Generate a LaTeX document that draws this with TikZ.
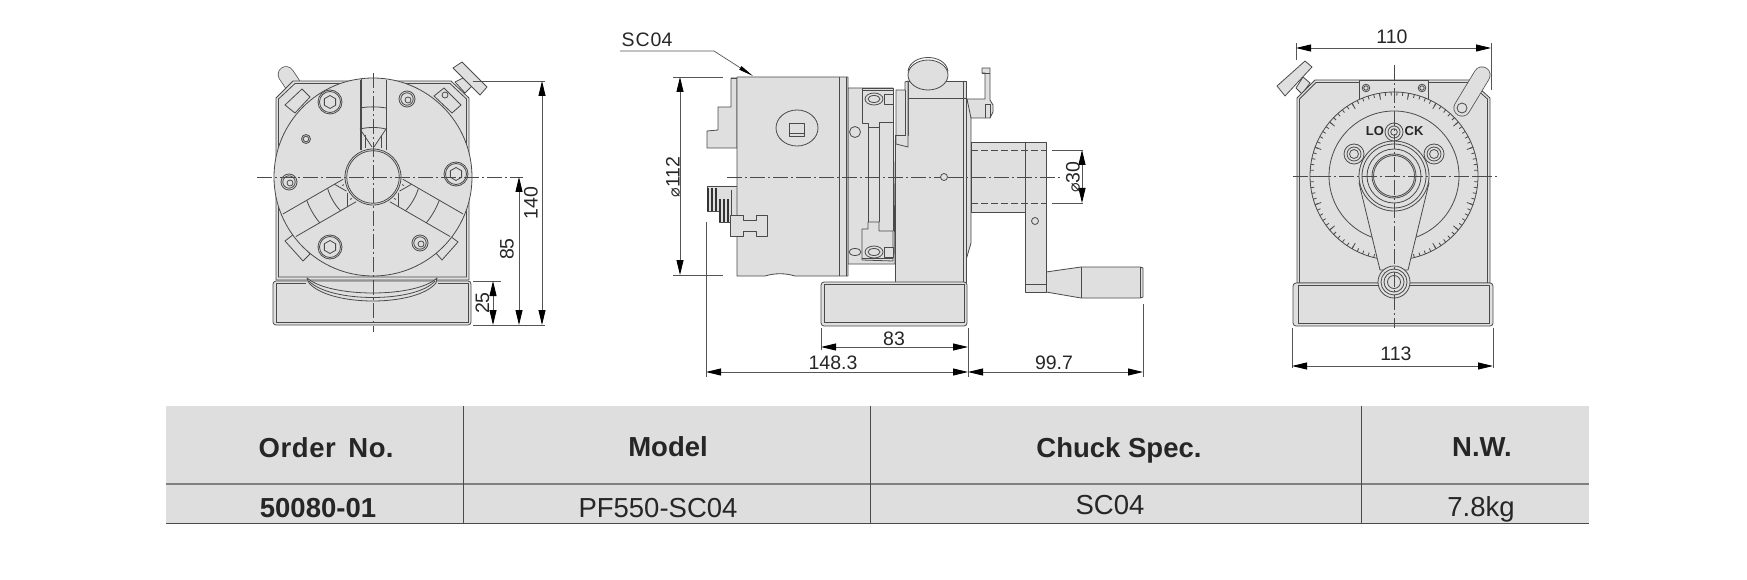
\documentclass[tikz,border=0pt]{standalone}
\usepackage{fontspec}
\setmainfont{Liberation Sans}
\newfontfamily\symfont{DejaVu Sans}
\usetikzlibrary{arrows.meta}
\definecolor{partfill}{HTML}{DFDFDF}
\definecolor{partline}{HTML}{4A4A4A}
\definecolor{dimline}{HTML}{555555}
\definecolor{inkc}{HTML}{262626}
\definecolor{tablefill}{HTML}{DEDEDE}
\tikzset{
  part/.style={draw=partline,line width=.8pt,fill=partfill,line join=round},
  edge/.style={draw=partline,line width=.8pt},
  hidden/.style={draw=partline,line width=.8pt,dash pattern=on 7pt off 3pt},
  axis/.style={draw=partline,line width=.7pt,dash pattern=on 15pt off 3pt on 2pt off 3pt},
  ext/.style={draw=dimline,line width=.7pt},
  dim/.style={draw=dimline,line width=.8pt,{Triangle[length=15pt,width=7pt,fill=black,color=black]}-{Triangle[length=15pt,width=7pt,fill=black,color=black]}},
  lead/.style={draw=dimline,line width=.7pt,-{Triangle[length=15pt,width=4pt,fill=black,color=black]}},
  dimtext/.style={font=\fontsize{19.5}{20}\selectfont,text=inkc,inner sep=0pt},
  head/.style={font=\fontsize{27.5}{28}\selectfont\bfseries,text=inkc,inner sep=0pt},
  cell/.style={font=\fontsize{27.5}{28}\selectfont,text=inkc,inner sep=0pt},
}
\newcommand{\dia}{{\symfont\fontsize{16}{16}\selectfont ⌀}}
\newcommand{\hexbolt}[2]{%
  \draw[part] (#1,#2) circle[radius=12];
  \draw[edge] (#1,#2) circle[radius=10.5];
  \draw[edge] (#1,#2) ++(30:6.5) -- ++(150:6.5) -- ++(210:6.5) -- ++(270:6.5) -- ++(330:6.5) -- ++(30:6.5) -- cycle;
}
\newcommand{\setbolt}[2]{%
  \draw[part] (#1,#2) circle[radius=8];
  \draw[edge] (#1,#2) circle[radius=6.2];
  \draw[edge] (#1+1,#2+1) circle[radius=3];
}
%% #1 rotation, #2 radius of the inner cross curve, #3 radius where the wedge starts
\newcommand{\jawslot}[3]{%
  \begin{scope}[shift={(373,177)},rotate=#1]
    \draw[edge] (-13,-27) -- (-13,-96.5) (13,-27) -- (13,-96.5);
    \draw[edge] (-13,-69) .. controls (-5,-70.5) and (5,-70.5) .. (13,-69);
    \draw[edge] (-13,-#2) .. controls (-5,-#2-2) and (5,-#2-2) .. (13,-#2);
    \draw[edge] (-13,-#3) -- (-1,-30) (13,-#3) -- (1,-30);
    \draw[edge] (-8,-#3+6) -- (-8,-29) (8,-#3+6) -- (8,-29);
  \end{scope}
}
\begin{document}
\begin{tikzpicture}[x=1pt,y=-1pt]
\useasboundingbox (0,0) rectangle (1747,580);
%% ------------- left view
\draw[partline,line width=16.5pt,line cap=round] (286,74.5) -- (295,88);
\draw[partfill,line width=15pt,line cap=round] (286,74.5) -- (295,88);
\draw[part] (455,82) -- (463,78) -- (472,86) -- (465,93) -- cycle;
\draw[part] (453,68) -- (462,62) -- (487,87) -- (480,95) -- cycle;
\draw[part] (293,81) -- (451,81) -- (469,98) -- (469,280) -- (276,280) -- (276,98) -- cycle;
\draw[edge] (295,83.5) -- (450,83.5) -- (466.5,99) -- (466.5,277) -- (278.5,277) -- (278.5,99) -- cycle;
\draw[part] (285,105) -- (302,89) -- (310,97) -- (295,113) -- cycle;
\draw[part] (434,96) -- (444,88) -- (461,105) -- (452,113) -- cycle;
\draw[part] (285,241) -- (294,234) -- (310,254) -- (303,261) -- cycle;
\draw[part] (435,252) -- (450,236) -- (458,242) -- (442,260) -- cycle;
\draw[part] (445,95) circle[radius=3];
\draw[part,rounded corners=3pt] (273,281) rectangle (471,325);
\draw[edge] (306,283.5) -- (276,283.5) -- (276,322) -- (468,322) -- (468,283.5) -- (438,283.5);
\draw[part] (307,278) -- (309,283) .. controls (330,307) and (416,307) .. (436,283) -- (437,278) .. controls (416,298) and (330,298) .. (307,278) -- cycle;
\draw[edge] (309,281) .. controls (330,303) and (416,303) .. (435,281);
\draw[part] (373,177) circle[radius=99];
\jawslot{0}{48}{48}\jawslot{120}{45}{37}\jawslot{-120}{45}{37}
\draw[edge] (361.5,79) -- (361.5,150);
\draw[part] (373,177) circle[radius=28];
\draw[edge] (373,177) circle[radius=26.3];
\hexbolt{330}{102}\hexbolt{330}{247}\hexbolt{456}{174}
\setbolt{407}{99}\setbolt{289}{182}\setbolt{420}{243}
\draw[edge] (306,139) circle[radius=4.5] (306,139) circle[radius=2.8];
\draw[axis] (257,177) -- (523,177);
\draw[axis] (373,73) -- (373,332);
%% dims
\draw[ext] (473,81) -- (545,81) (473,325) -- (545,325) (473,281) -- (501,281);
\draw[dim] (542,81) -- (542,325);
\draw[dim] (519,177) -- (519,325);
\draw[dim] (493,281) -- (493,325);
\node[dimtext,rotate=90] (d140) at (531,203) {140};
\node[dimtext,rotate=90] (d85) at (507,249) {85};
\node[dimtext,rotate=90] (d25) at (482.5,303) {25};
%% ------------- side view
\node[dimtext] (sc) at (647,40) {S\kern1pt C\kern1pt 04};
\draw[lead] (620,51) -- (714,51) -- (753,76);
\draw[ext] (673,77) -- (723,77) (673,275) -- (723,275);
\draw[dim] (680,77) -- (680,275);
\node[dimtext,rotate=90] (d112) at (673,177) {\dia 112};
%% jaws
\draw[part] (731,78) -- (731,107) -- (718,107) -- (718,130) -- (707,131) -- (707,148) -- (737,148) -- (737,78) -- cycle;
\draw[part] (707,186) -- (737,186) -- (737,216) -- (731,216) -- (731,222) -- (719,222) -- (719,211) -- (707,211) -- cycle;
\draw[edge] (731,190) -- (731,216);
\foreach \sx/\sy in {707/188,711/188,715/188,719/199,723/199,727/199}{
  \fill[black!80] (\sx,\sy) rectangle ++(2.4,23);
}
%% neck and clamps
\draw[part] (848,88) -- (893,88) -- (895,264) -- (848,264) -- cycle;
\draw[part] (862,88) -- (893,88) -- (893,122) -- (879,122) -- (879,127) -- (868,127) -- (868,123) -- (862,123) -- cycle;
\draw[part] (862,229) -- (868,229) -- (868,222) -- (879,222) -- (879,231) -- (893,231) -- (893,261) -- (862,260) -- cycle;
\draw[edge] (868,127) -- (868,222) (879,127) -- (879,222) (893,122) -- (893,231);
\draw[edge] (862,90.5) -- (893,90.5) (862,258) -- (893,258);
\draw[part] (884,94) rectangle (893,104);
\draw[part] (884,247) rectangle (893,257);
\draw[part] (874,99) ellipse[x radius=9,y radius=6];
\draw[edge] (874,99) ellipse[x radius=6,y radius=3.5];
\draw[part] (874,252) ellipse[x radius=9,y radius=6];
\draw[edge] (874,252) ellipse[x radius=6,y radius=3.5];
\draw[part] (855,132) circle[radius=5.5];
\draw[part] (855,252) ellipse[x radius=6,y radius=3.5];
%% chuck body
\draw[part] (737,77) -- (848,77) -- (848,276) -- (795,276) .. controls (785,273) and (775,273) .. (765,276) -- (737,276) -- cycle;
\draw[edge] (839,77) -- (839,276) (846,77) -- (846,276);
\draw[edge] (731,78) -- (737,78);
\draw[part] (797,128) ellipse[x radius=21,y radius=18];
\draw[part] (789,123) rectangle (804,136);
\draw[edge] (789,133) -- (804,133);
\draw[part] (730,215) -- (743,215) -- (743,220) -- (756,220) -- (756,215) -- (767,215) -- (767,236) -- (756,236) -- (756,231) -- (743,231) -- (743,236) -- (730,236) -- cycle;
%% housing
\draw[part] (966,98) -- (971,110) -- (971,243) -- (966,260) -- cycle;
\draw[part] (895,135) -- (895,282) -- (966,282) -- (966,81) -- (908,81) -- (908,135) -- cycle;
\draw[edge] (963,81) -- (963,282) (908,98) -- (966,98);
\draw[part] (896,90) -- (905,90) -- (905,82) -- (908,81) -- (908,147) -- (896,144) -- cycle;
\draw[edge] (896,135) -- (905,135) -- (905,90);
\draw[part] (928,75) ellipse[x radius=20,y radius=15];
\draw[edge] (908,71) .. controls (911,53) and (945,53) .. (948,71);
\draw[part] (944,177) circle[radius=3.5];
%% lever
\draw[part] (967,99) -- (985,99) -- (985,73) -- (982,73) -- (982,68) -- (990,68) -- (990,100) -- (993,105) -- (993,112) -- (990,118) -- (971,118) -- cycle;
\draw[edge] (982,73) -- (990,73) (985,104) -- (990,104) -- (990,118) (985,104) -- (985,118);
%% shaft and crank
\draw[part] (971,142) rectangle (1025,212);
\draw[part] (1046,272) -- (1081,267) -- (1140,267) -- (1143,268) -- (1143,297) -- (1140,298) -- (1081,298) -- (1046,292) -- cycle;
\draw[edge] (1081,267) -- (1081,298) (1140,267) -- (1140,298);
\draw[part] (1025,142) rectangle (1046,292);
\draw[edge] (1025,284) -- (1046,284);
\draw[hidden] (971,150) -- (1046,150) (971,203) -- (1046,203);
\draw[part] (1035,221) circle[radius=3.5];
\draw[axis] (727,177) -- (941,177) (948,177) -- (1063,177);
%% base
\draw[part,rounded corners=3pt] (821,282) rectangle (967,326);
\draw[edge] (824,284) rectangle (964,322);
%% dims
\draw[ext] (1052,150) -- (1083,150) (1052,203) -- (1083,203);
\draw[dim] (1082,150) -- (1082,203);
\node[dimtext,rotate=90] (d30) at (1073,177) {\dia 30};
\draw[ext] (821,328) -- (821,350) (968,328) -- (968,377) (706,222) -- (706,377) (1143,304) -- (1143,377);
\draw[dim] (821,347) -- (968,347);
\draw[dim] (706,372) -- (968,372);
\draw[dim] (968,372) -- (1143,372);
\node[dimtext] (d83) at (894,338.5) {83};
\node[dimtext] (d148) at (833,363) {148.3};
\node[dimtext] (d99) at (1054,363) {99.7};
%% ------------- right view
\draw[part] (1296,88) -- (1303,77) -- (1310,83) -- (1302,94) -- cycle;
\draw[part] (1277,86) -- (1305,61) -- (1312,67) -- (1285,96) -- cycle;
\draw[part] (1315,80) -- (1470,80) -- (1490,98) -- (1490,283) -- (1297,283) -- (1297,98) -- cycle;
\draw[edge] (1316,82.5) -- (1469,82.5) -- (1487.5,99) -- (1487.5,283) (1299.5,283) -- (1299.5,99) -- (1316,82.5);
\draw[part] (1359,80) rectangle (1428,100);
\draw[part] (1366,88) circle[radius=3.8];
\draw[edge] (1366,88) circle[radius=2.2];
\draw[part] (1422,88) circle[radius=3.8];
\draw[edge] (1422,88) circle[radius=2.2];
\draw[partline,line width=17pt,line cap=round] (1482,75) -- (1462,108);
\draw[partfill,line width=15.5pt,line cap=round] (1482,75) -- (1462,108);
\draw[part] (1462,108) circle[radius=5];
\draw[part] (1394,176) circle[radius=84];
\foreach \a in {0,4,...,356}{\draw[edge] (1394,176) ++(\a:84) -- ++(\a:-3.5);}
\foreach \a in {0,20,...,340}{\draw[edge] (1394,176) ++(\a:84) -- ++(\a:-6.5);}
\draw[edge] (1394,176) circle[radius=65];
\draw[part,rounded corners=3pt] (1293,283) rectangle (1493,326);
\draw[edge] (1298,285) rectangle (1489,323);
\draw[part] (1359,183) -- (1380,270) -- (1408,270) -- (1429,183) -- cycle;
\fill[partfill] (1362,185) rectangle (1426,195);
\draw[part] (1394,176) circle[radius=35];
\draw[edge] (1394,176) circle[radius=32] (1394,176) circle[radius=27] (1394,176) circle[radius=22];
\draw[edge] (1394,176) circle[radius=20.5];
\draw[part] (1354,154) circle[radius=10];
\draw[edge] (1354,154) circle[radius=7] (1354,154) circle[radius=4.5];
\draw[part] (1434,154) circle[radius=10];
\draw[edge] (1434,154) circle[radius=7] (1434,154) circle[radius=4.5];
\draw[part] (1394,132) circle[radius=9];
\draw[edge] (1394,132) circle[radius=6] (1394,132) circle[radius=3.3];
\node[font=\fontsize{13}{13}\selectfont\bfseries,text=inkc,inner sep=0pt] (lo) at (1375,131) {LO};
\node[font=\fontsize{13}{13}\selectfont\bfseries,text=inkc,inner sep=0pt] (ck) at (1414,131) {CK};
\draw[part] (1394,282) circle[radius=16];
\draw[edge] (1394,282) circle[radius=13] (1394,282) circle[radius=10] (1394,282) circle[radius=6.5];
\draw[axis] (1293,176) -- (1498,176);
\draw[axis] (1394,65) -- (1394,328);
\draw[ext] (1296,43) -- (1296,60) (1491,43) -- (1491,90) (1292,328) -- (1292,368) (1493,328) -- (1493,368);
\draw[dim] (1296,48) -- (1491,48);
\draw[dim] (1292,366) -- (1493,366);
\node[dimtext] (d110) at (1392,36.5) {110};
\node[dimtext] (d113) at (1396,354) {113};
%% ------------- table
\fill[tablefill] (166,406) rectangle (1589,524);
\draw[draw=partline!70,line width=1.6pt] (166,483.7) -- (1589,483.7);
\draw[draw=partline,line width=1pt] (166,523.5) -- (1589,523.5);
\draw[draw=partline,line width=1pt] (463,406) -- (463,523.5) (870,406) -- (870,523.5) (1361,406) -- (1361,523.5);
\node[head] (t1) at (326,447.5) {O\kern.6pt r\kern.6pt d\kern.6pt e\kern.6pt r\hspace{5pt} N\kern.6pt o.};
\node[head] (t2) at (668,447) {Model};
\node[head] (t3) at (1119,450.5) {Chuck Spec.};
\node[head] (t4) at (1482,447.5) {N.W.};
\node[head] (v1) at (318,508) {50080-01};
\node[cell] (v2) at (658,508.5) {PF550-SC04};
\node[cell] (v3) at (1110,505) {SC04};
\node[cell] (v4) at (1481,509) {7.8kg};
\end{tikzpicture}
\end{document}
